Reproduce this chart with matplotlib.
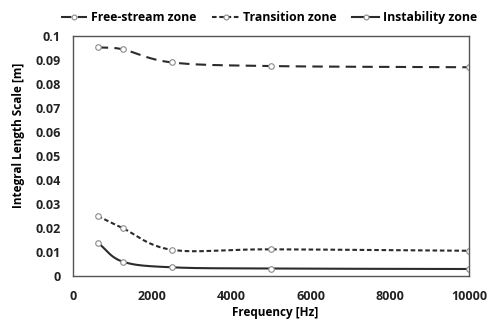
import numpy as np
from matplotlib import pyplot as plt

freq = [625, 1250, 2500, 5000, 10000]
free_stream = [0.0953, 0.0945, 0.089, 0.0875, 0.087]
transition = [0.025, 0.0200, 0.0109, 0.0111, 0.0105]
instability = [0.0139, 0.0060, 0.0036, 0.0031, 0.0029]

plt.rcParams['font.family'] = ['Open Sans', 'DejaVu Sans']
plt.rcParams['font.weight'] = 'bold'


def smooth(x, y, n=40):
    # Catmull-Rom curve through the points, done in normalised units
    x = np.asarray(x, float) / 10000.0
    y = np.asarray(y, float) / 0.1
    px = np.concatenate([[2 * x[0] - x[1]], x, [2 * x[-1] - x[-2]]])
    py = np.concatenate([[2 * y[0] - y[1]], y, [2 * y[-1] - y[-2]]])
    t = np.linspace(0, 1, n)
    xs, ys = [], []
    for i in range(1, len(px) - 2):
        for p, out in ((px, xs), (py, ys)):
            p0, p1, p2, p3 = p[i - 1], p[i], p[i + 1], p[i + 2]
            out.append(0.5 * (2 * p1 + (-p0 + p2) * t
                              + (2 * p0 - 5 * p1 + 4 * p2 - p3) * t ** 2
                              + (-p0 + 3 * p1 - 3 * p2 + p3) * t ** 3))
    return np.concatenate(xs) * 10000.0, np.concatenate(ys) * 0.1


fig = plt.figure(figsize=(4.88, 3.22), dpi=100)
ax = fig.add_axes([0.1496, 0.143, 0.8114, 0.745])

series = [
    (free_stream, 'Free-stream zone', (0, (5, 3))),
    (transition, 'Transition zone', (0, (2.2, 1.3))),
    (instability, 'Instability zone', '-'),
]
for vals, name, ls in series:
    sx, sy = smooth(freq, vals)
    ax.plot(sx, sy, color='#2b2b2b', lw=1.5, ls=ls)
    ax.plot(freq, vals, ls='none', marker='o', ms=4, mfc='white',
            mec='#8a8a8a', mew=0.8)
    ax.plot([], [], color='#2b2b2b', lw=1.5, ls=ls, marker='o', ms=3.5,
            mfc='white', mec='#8a8a8a', mew=0.8, label=name)

ax.set_xlim(0, 10000)
ax.set_ylim(0, 0.1)
ax.set_xticks(np.arange(0, 10001, 2000))
ax.set_yticks(np.arange(0, 0.1001, 0.01))
ax.set_yticklabels(['0', '0.01', '0.02', '0.03', '0.04', '0.05', '0.06',
                    '0.07', '0.08', '0.09', '0.1'])
ax.tick_params(length=0, labelsize=9, colors='#222222')
ax.tick_params(axis='y', pad=9)
ax.tick_params(axis='x', pad=10)
for s in ax.spines.values():
    s.set_color('#555555')
    s.set_linewidth(1.0)

ax.set_xlabel('Frequency [Hz]', fontsize=8.5, fontweight='bold')
ax.xaxis.set_label_coords(0.51, -0.125)
ax.set_ylabel('Integral Length Scale [m]', fontsize=8.5, fontweight='bold')
ax.yaxis.set_label_coords(-0.122, 0.585)

fig.legend(loc='upper center', bbox_to_anchor=(0.551, 1.0), ncol=3,
           frameon=False, fontsize=8.8, handlelength=2.2, handletextpad=0.3,
           columnspacing=1.3)

fig.savefig('out.png', dpi=100)
